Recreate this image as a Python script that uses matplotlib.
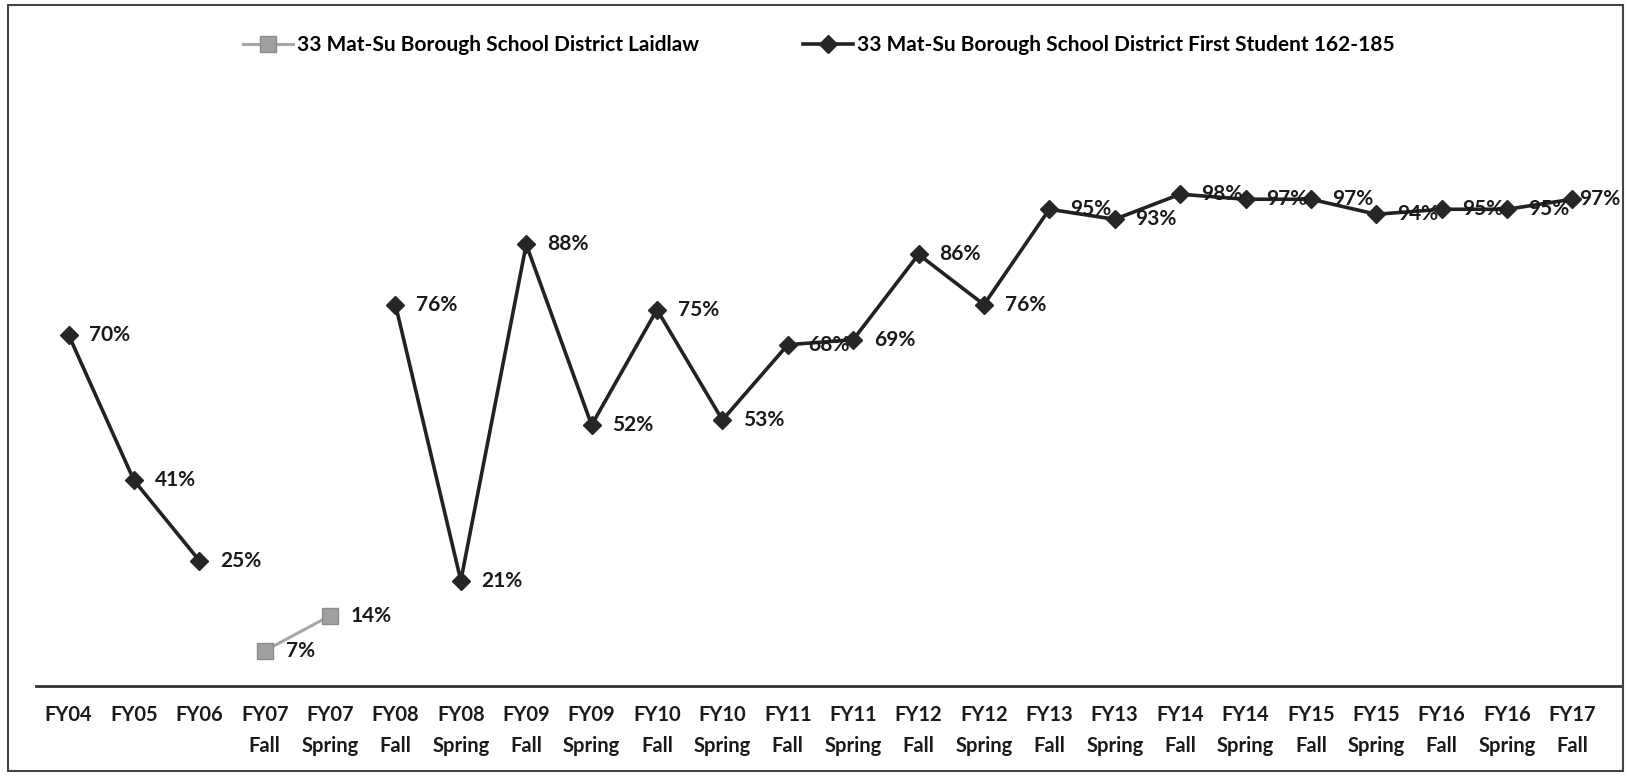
import numpy as np
import matplotlib.pyplot as plt
from matplotlib.patches import Rectangle

# categorias do eixo x
categorias = ['FY04', 'FY05', 'FY06', 'FY07\nFall', 'FY07\nSpring', 'FY08\nFall', 'FY08\nSpring',
              'FY09\nFall', 'FY09\nSpring', 'FY10\nFall', 'FY10\nSpring', 'FY11\nFall', 'FY11\nSpring',
              'FY12\nFall', 'FY12\nSpring', 'FY13\nFall', 'FY13\nSpring', 'FY14\nFall', 'FY14\nSpring',
              'FY15\nFall', 'FY15\nSpring', 'FY16\nFall', 'FY16\nSpring', 'FY17\nFall']

# valores (%) - None onde nao ha dado
laidlaw = [None, None, None, 7, 14] + [None] * 19
first_student = [70, 41, 25, None, None, 76, 21, 88, 52, 75, 53, 68, 69,
                 86, 76, 95, 93, 98, 97, 97, 94, 95, 95, 97]

nome_laidlaw = '33 Mat-Su Borough School District Laidlaw'
nome_first = '33 Mat-Su Borough School District First Student 162-185'

plt.rcParams['font.family'] = ['Lato', 'DejaVu Sans']

fig = plt.figure(figsize=(16.28, 7.76), dpi=100)
ax = fig.add_axes([0.022, 0.116, 0.974, 0.776])

x = np.arange(len(categorias))
y_l = np.array([np.nan if v is None else v / 100 for v in laidlaw])
y_f = np.array([np.nan if v is None else v / 100 for v in first_student])

ax.plot(x, y_l, color='#a6a6a6', lw=2.2, marker='s', ms=11, mfc='#a0a0a0', mec='#8c8c8c',
        label=nome_laidlaw)
ax.plot(x, y_f, color='#222222', lw=2.6, marker='D', ms=9, mfc='#262626', mec='#262626',
        label=nome_first)

# rotulos de dados (o ultimo fica mais perto do ponto, como no original)
ultimo = len(categorias) - 1
for serie in (laidlaw, first_student):
    for i, v in enumerate(serie):
        if v is None:
            continue
        dx = 5 if i == ultimo else 15
        ax.annotate(f'{v}%', (i, v / 100), xytext=(dx, 0), textcoords='offset points',
                    ha='left', va='center', fontsize=15, fontweight='bold', color='#1a1a1a')

ax.set_xlim(-0.5, len(categorias) - 0.25)
ax.set_ylim(0, 1.2)
ax.set_xticks(x)
ax.set_xticklabels(categorias, fontsize=14.5, fontweight='bold', color='#1a1a1a', linespacing=1.65)
ax.tick_params(axis='x', length=0, pad=14)
ax.set_yticks([])
for lado in ['top', 'right', 'left']:
    ax.spines[lado].set_visible(False)
ax.spines['bottom'].set_color('#333333')
ax.spines['bottom'].set_linewidth(2)

fig.legend(loc='center', bbox_to_anchor=(0.503, 0.942), ncol=2, frameon=False,
           handlelength=2.4, handletextpad=0.2, columnspacing=5.0,
           prop={'weight': 'bold', 'size': 15})

# moldura externa
fig.patches.append(Rectangle((0.005, 0.007), 0.992, 0.986, transform=fig.transFigure,
                             fill=False, edgecolor='#444444', lw=1.5))

plt.savefig('out.png', dpi=100)
